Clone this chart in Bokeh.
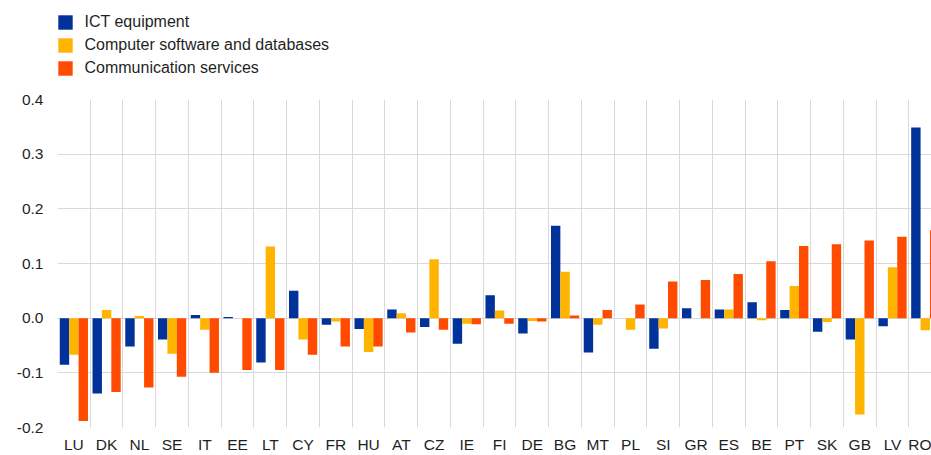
from bokeh.plotting import figure
from bokeh.layouts import column
from bokeh.models import (ColumnDataSource, FixedTicker, Legend, LegendItem,
                          Range1d, PrintfTickFormatter)
from bokeh.embed import file_html
from bokeh.resources import INLINE

categories = ["LU", "DK", "NL", "SE", "IT", "EE", "LT", "CY", "FR", "HU", "AT",
              "CZ", "IE", "FI", "DE", "BG", "MT", "PL", "SI", "GR", "ES", "BE",
              "PT", "SK", "GB", "LV", "RO"]
ict = [-0.085, -0.138, -0.052, -0.039, 0.006, 0.002, -0.081, 0.050, -0.012,
       -0.020, 0.016, -0.016, -0.047, 0.042, -0.028, 0.169, -0.063, 0.0,
       -0.056, 0.018, 0.016, 0.029, 0.015, -0.025, -0.039, -0.015, 0.349]
software = [-0.067, 0.015, 0.004, -0.065, -0.021, 0.0, 0.131, -0.039, -0.006,
            -0.062, 0.009, 0.108, -0.010, 0.014, -0.005, 0.085, -0.012, -0.021,
            -0.019, 0.0, 0.016, -0.004, 0.059, -0.007, -0.176, 0.093, -0.022]
communication = [-0.188, -0.135, -0.127, -0.107, -0.100, -0.095, -0.095, -0.067,
                 -0.052, -0.052, -0.026, -0.021, -0.011, -0.010, -0.006, 0.005,
                 0.015, 0.025, 0.067, 0.070, 0.081, 0.104, 0.132, 0.135, 0.142,
                 0.149, 0.161]
series_names = ["ICT equipment", "Computer software and databases",
                "Communication services"]
series_colors = ["#003299", "#FFB400", "#FF4B00"]
y_ticks = [-0.2, -0.1, 0.0, 0.1, 0.2, 0.3, 0.4]

n = len(categories)
bar_w = 0.287
offsets = [0.5 - bar_w, 0.5, 0.5 + bar_w]
font = "Liberation Sans"
text_color = "#1f1f1f"

# ---- main chart ----
p = figure(width=931, height=366, output_backend="svg", toolbar_location=None,
           x_range=Range1d(0, 26.69), y_range=Range1d(-0.2, 0.4),
           min_border_left=57, min_border_right=0, min_border_top=10,
           min_border_bottom=26)
p.outline_line_color = None
p.background_fill_color = "white"
p.border_fill_color = "white"

for vals, color, off in zip([ict, software, communication], series_colors,
                            offsets):
    src = ColumnDataSource(dict(x=[i + off for i in range(n)], top=vals))
    p.vbar(x="x", top="top", bottom=0, width=bar_w, source=src,
           fill_color=color, line_color=None)

p.xaxis.ticker = FixedTicker(ticks=[i + 0.5 for i in range(n)])
p.xaxis.major_label_overrides = {i + 0.5: c for i, c in enumerate(categories)}
p.yaxis.ticker = FixedTicker(ticks=y_ticks)
p.yaxis.formatter = PrintfTickFormatter(format="%.1f")
for ax in (p.xaxis[0], p.yaxis[0]):
    ax.axis_line_color = None
    ax.major_tick_line_color = None
    ax.minor_tick_line_color = None
    ax.major_tick_out = 0
    ax.major_tick_in = 0
    ax.minor_tick_out = 0
    ax.minor_tick_in = 0
    ax.major_label_text_font = font
    ax.major_label_text_font_size = "15.5px"
    ax.major_label_text_color = text_color
p.xaxis.major_label_standoff = 8
p.yaxis.major_label_standoff = 14

p.xgrid.ticker = FixedTicker(ticks=list(range(n + 1)))
p.ygrid.ticker = FixedTicker(ticks=y_ticks)
for g in (p.xgrid[0], p.ygrid[0]):
    g.grid_line_color = "#d9d9d9"
    g.grid_line_width = 1

# ---- legend strip ----
lf = figure(width=931, height=89, output_backend="svg", toolbar_location=None,
            x_range=Range1d(0, 1), y_range=Range1d(0, 1),
            x_axis_location=None, y_axis_location=None,
            min_border_left=0, min_border_right=0, min_border_top=0,
            min_border_bottom=0)
lf.outline_line_color = None
lf.grid.visible = False
items = []
for name, color in zip(series_names, series_colors):
    # zero-height placeholder glyph, only used for the legend swatch
    r = lf.vbar(x=[0.5], top=[0], bottom=[0], width=0.01, fill_color=color,
                line_color=None)
    items.append(LegendItem(label=name, renderers=[r]))
legend = Legend(items=items, location=(-1.5, 12.0), orientation="vertical",
                padding=0, margin=0, spacing=5, glyph_width=18,
                glyph_height=18, label_height=18, label_standoff=11,
                label_text_font=font, label_text_font_size="16px",
                label_text_color=text_color, border_line_color=None,
                background_fill_alpha=0)
lf.add_layout(legend)

layout = column(lf, p, spacing=0)
open("out.html", "w").write(file_html(layout, INLINE))
